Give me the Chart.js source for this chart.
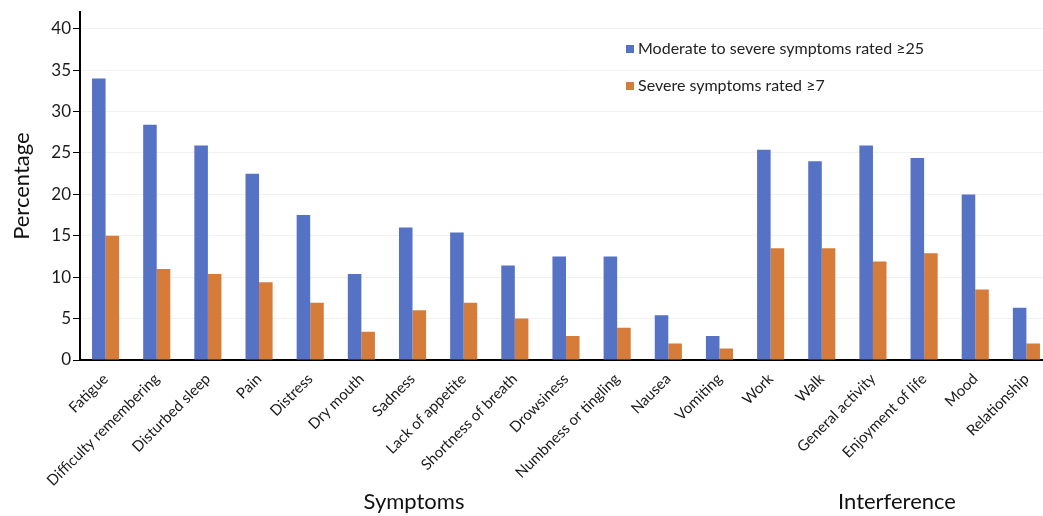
<!DOCTYPE html>
<html>
<head>
<meta charset="utf-8">
<script src="https://cdn.jsdelivr.net/npm/chart.js@4/dist/chart.umd.min.js"></script>
<style>
  html, body { margin:0; padding:0; background:#fff; overflow:hidden; width:1043px; height:516px; }
  #wrap { position:relative; width:1052px; height:516px; }
  .leg { position:absolute; font-family: Lato, "Liberation Sans", sans-serif; font-size:16px; color:#222; white-space:nowrap; }
  .leg span.box { display:inline-block; width:8px; height:8px; margin-right:4px; vertical-align:1px; }
  .grp { position:absolute; font-family: Lato, "Liberation Sans", sans-serif; font-size:22px; color:#111; transform:translateX(-50%); white-space:nowrap; }
</style>
</head>
<body>
<div id="wrap">
  <canvas id="c" width="1052" height="516" style="width:1052px;height:516px"></canvas>
  <div id="legend"></div>
  <div class="grp" style="left:414px; top:487px;">Symptoms</div>
  <div class="grp" style="left:897px; top:487px;">Interference</div>
</div>
<script>
const categories = ["Fatigue", "Difficulty remembering", "Disturbed sleep", "Pain", "Distress", "Dry mouth", "Sadness", "Lack of appetite", "Shortness of breath", "Drowsiness", "Numbness or tingling", "Nausea", "Vomiting", "Work", "Walk", "General activity", "Enjoyment of life", "Mood", "Relationship"];
const seriesNames = ["Moderate to severe symptoms rated \u226525", "Severe symptoms rated \u22657"];
const moderate = [34.0, 28.4, 25.9, 22.5, 17.5, 10.4, 16.0, 15.4, 11.4, 12.5, 12.5, 5.4, 2.9, 25.4, 24.0, 25.9, 24.4, 20.0, 6.3];
const severe = [15.0, 11.0, 10.4, 9.4, 6.9, 3.4, 6.0, 6.9, 5.0, 2.9, 3.9, 2.0, 1.4, 13.5, 13.5, 11.9, 12.9, 8.5, 2.0];
const yTicks = [0, 5, 10, 15, 20, 25, 30, 35, 40];
const colors = ["#5572c4", "#d57c3a"];

const FONT = 'Lato, "Liberation Sans", sans-serif';

// HTML legend
const leg = document.getElementById('legend');
seriesNames.forEach((n, i) => {
  const d = document.createElement('div');
  d.className = 'leg';
  d.style.left = '626px';
  d.style.top = (38 + i * 37) + 'px';
  d.innerHTML = '<span class="box" style="background:' + colors[i] + '"></span>' + n;
  leg.appendChild(d);
});

new Chart(document.getElementById('c'), {
  type: 'bar',
  data: {
    labels: categories,
    datasets: [
      { label: seriesNames[0], data: moderate, backgroundColor: colors[0], categoryPercentage: 0.53, barPercentage: 1.0 },
      { label: seriesNames[1], data: severe, backgroundColor: colors[1], categoryPercentage: 0.53, barPercentage: 1.0 }
    ]
  },
  options: {
    responsive: false,
    animation: false,
    devicePixelRatio: 1,
    layout: { padding: { top: 10, right: 0, left: 0, bottom: 0 } },
    plugins: { legend: { display: false }, tooltip: { enabled: false } },
    scales: {
      x: {
        grid: { display: false },
        border: { color: '#000', width: 2 },
        ticks: {
          color: '#1a1a1a', font: { family: FONT, size: 15 },
          maxRotation: 45, minRotation: 45, autoSkip: false, padding: 2
        },
        afterFit: (s) => { s.height = 156; }
      },
      y: {
        min: 0, max: 42,
        afterBuildTicks: (s) => { s.ticks = yTicks.map(v => ({ value: v })); },
        grid: { color: '#f1f1f1', tickColor: '#000', tickLength: 7, lineWidth: 1 },
        border: { color: '#000', width: 2 },
        ticks: { color: '#1a1a1a', font: { family: FONT, size: 17 }, padding: 2 },
        title: { display: true, text: 'Percentage', color: '#111', font: { family: FONT, size: 22 }, padding: { top: 9, bottom: 0 } },
        afterFit: (s) => { s.width = 80; }
      }
    }
  }
});
</script>
</body>
</html>
